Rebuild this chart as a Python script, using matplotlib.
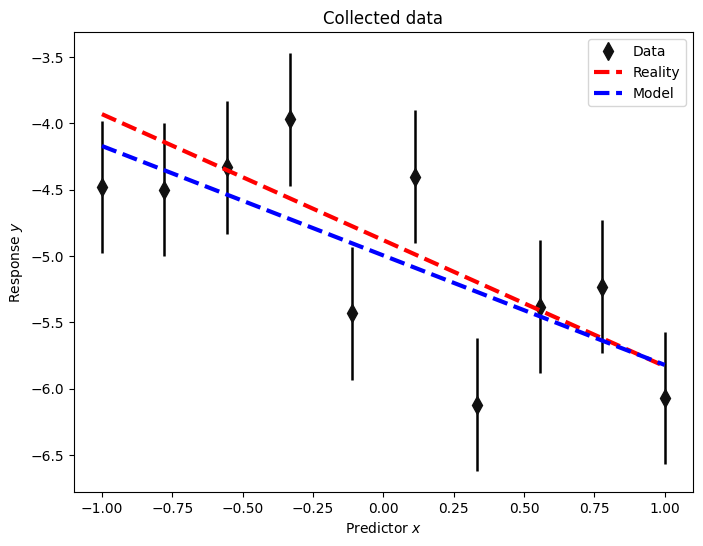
import numpy as np
import matplotlib
matplotlib.use("Agg")
import matplotlib.pyplot as plt

x = [-1.0, -0.7778, -0.5556, -0.3333, -0.1111, 0.1111, 0.3333, 0.5556, 0.7778, 1.0]
y = [-4.48, -4.50, -4.33, -3.97, -5.43, -4.40, -6.12, -5.38, -5.23, -6.07]
yerr = [0.5] * 10
line_x = [-1.0, 1.0]
reality_y = [-3.93, -5.83]
model_y = [-4.17, -5.82]

fig = plt.figure(figsize=(7.03, 5.46), dpi=100)
ax = fig.add_axes([0.105, 0.099, 0.8805, 0.842])
ax.errorbar(x, y, yerr=yerr, fmt='none', ecolor='k', elinewidth=1.8)
ax.plot(x, y, 'd', color='#111111', markersize=9, label='Data')
ax.plot(line_x, reality_y, 'r--', lw=3, label='Reality')
ax.plot(line_x, model_y, 'b--', lw=3, label='Model')
ax.set_xlabel('Predictor $x$')
ax.set_ylabel('Response $y$')
ax.set_title('Collected data')
ax.legend(loc='upper right')
fig.savefig('out.png', dpi=100)
